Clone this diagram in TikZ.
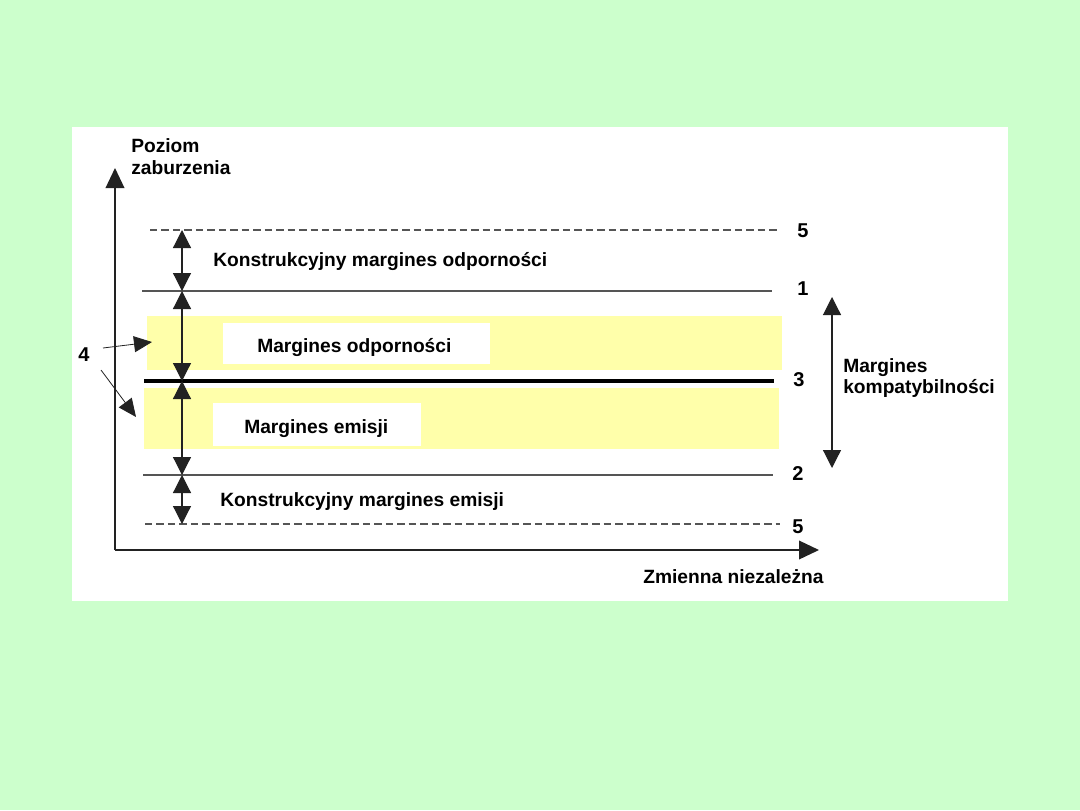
\documentclass[tikz,border=0pt]{standalone}
\usepackage{fontspec}
\setmainfont{Liberation Sans}
\usetikzlibrary{arrows.meta}
\definecolor{bg}{HTML}{CCFFCC}
\definecolor{band}{HTML}{FFFFAA}
\definecolor{ln}{HTML}{555555}
\definecolor{ax}{HTML}{222222}
\begin{document}
\begin{tikzpicture}[x=0.75pt,y=-0.75pt,
  lbl/.style={font=\bfseries\fontsize{14.4}{16}\selectfont, inner sep=0pt, anchor=base west},
  num/.style={font=\bfseries\fontsize{15}{16}\selectfont, inner sep=0pt, anchor=base west},
  axis/.style={ax, line width=1.1pt, -{Triangle[length=15pt,width=14pt]}},
  hline/.style={ln, line width=1.1pt},
  dline/.style={ln, line width=1.1pt, dash pattern=on 5.6pt off 3pt},
  dim/.style={ax, line width=0.9pt, {Triangle[length=13.5pt,width=13.5pt]}-{Triangle[length=13.5pt,width=13.5pt]}},
  ptr/.style={ax, line width=0.6pt, -{Triangle[length=13.5pt,width=12pt]}},
  bandbox/.style={fill=band, draw=none},
  whitebox/.style={fill=white, draw=none}]
\useasboundingbox (0,0) rectangle (1080,810);
\fill[bg] (0,0) rectangle (1080,810);
\fill[white] (72,127) rectangle (1008,601);

% bands
\fill[bandbox] (147,316) rectangle (782,370);
\fill[bandbox] (144,388) rectangle (779,449);
\fill[whitebox] (223,323) rectangle (490,364);
\fill[whitebox] (213,403) rectangle (421,446);

% axes
\coordinate (O) at (115,550);
\coordinate (Ytip) at (115,168);
\coordinate (Xtip) at (819,550);
\draw[axis] (O) -- (Ytip);
\draw[axis] (O) -- (Xtip);

% horizontal levels
\coordinate (d5a) at (150,230); \coordinate (d5b) at (778,230);
\coordinate (l1a) at (142,291); \coordinate (l1b) at (772,291);
\coordinate (l3a) at (144,381); \coordinate (l3b) at (774,381);
\coordinate (l2a) at (143,475); \coordinate (l2b) at (773,475);
\coordinate (e5a) at (145,524); \coordinate (e5b) at (780,524);
\draw[dline] (d5a) -- (d5b);
\draw[hline] (l1a) -- (l1b);
\draw[black, line width=3.6pt] (l3a) -- (l3b);
\draw[hline] (l2a) -- (l2b);
\draw[dline] (e5a) -- (e5b);

% dimension arrows
\coordinate (v1) at (182,230);
\coordinate (v2) at (182,291);
\coordinate (v3) at (182,381);
\coordinate (v4) at (182,475);
\coordinate (v5) at (182,524);
\draw[dim] (v1) -- (v2);
\draw[dim] (v2) -- (v3);
\draw[dim] (v3) -- (v4);
\draw[dim] (v4) -- (v5);

% compatibility arrow
\coordinate (c1) at (832,297);
\coordinate (c2) at (832,468);
\draw[dim] (c1) -- (c2);

% labels
\node[lbl] (yl1) at (131,152) {Poziom};
\node[lbl] (yl2) at (131,174) {zaburzenia};
\node[lbl] (kmo) at (213,266) {Konstrukcyjny margines odporności};
\node[lbl] (mo) at (257,352) {Margines odporności};
\node[lbl] (me) at (244,433) {Margines emisji};
\node[lbl] (kme) at (220,506) {Konstrukcyjny margines emisji};
\node[lbl] (xl) at (643,583) {Zmienna niezależna};
\node[lbl] (mk1) at (843,372) {Margines};
\node[lbl] (mk2) at (843,393) {kompatybilności};

\node[num] (n5a) at (797,237) {5};
\node[num] (n1) at (797,295) {1};
\node[num] (n3) at (793,386) {3};
\node[num] (n2) at (792,480) {2};
\node[num] (n5b) at (792,533) {5};
\node[num] (n4) at (78,361) {4};

% pointers from 4
\coordinate (p1) at (152,342);
\coordinate (p2) at (136,417);
\draw[ptr] (103,348) -- (p1);
\draw[ptr] (101,370) -- (p2);
\end{tikzpicture}
\end{document}
